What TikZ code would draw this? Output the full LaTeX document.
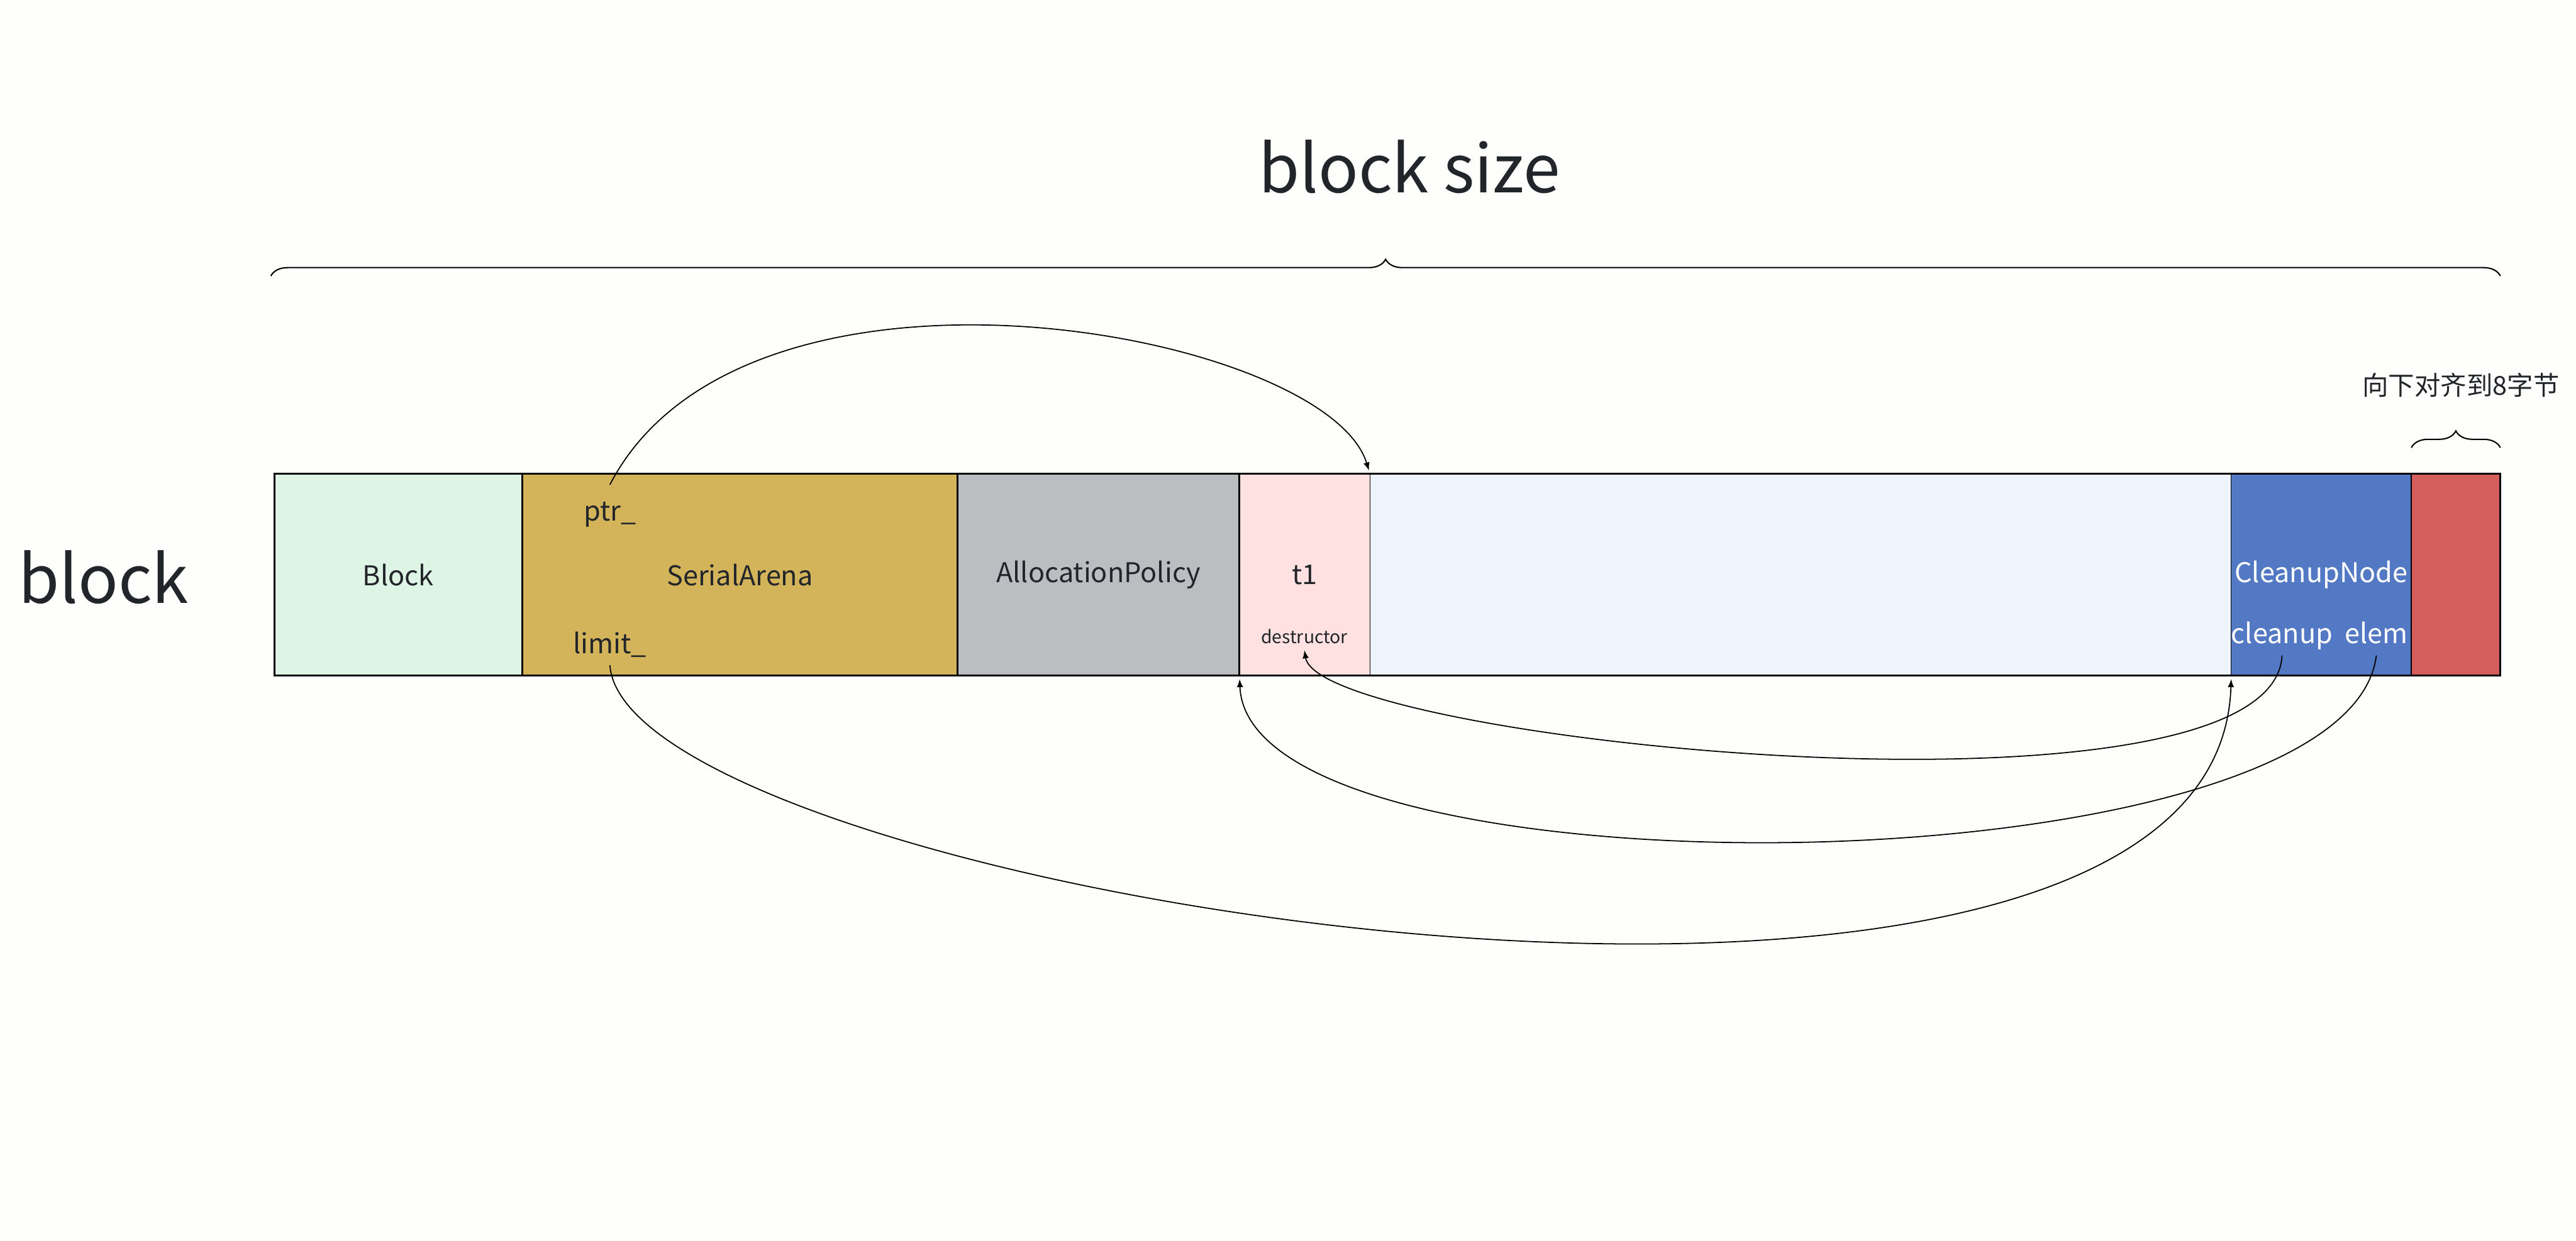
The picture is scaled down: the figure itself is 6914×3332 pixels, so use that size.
\documentclass[tikz,border=0pt]{standalone}
\usepackage{fontspec}
\setmainfont{Noto Sans CJK SC}
\usepackage{xcolor}
\usetikzlibrary{positioning,arrows.meta,decorations.pathreplacing}

\definecolor{bgC}{RGB}{254,254,252}
\definecolor{txtC}{RGB}{34,37,42}
\definecolor{blockC}{RGB}{222,244,228}
\definecolor{arenaC}{RGB}{211,180,90}
\definecolor{policyC}{RGB}{187,190,193}
\definecolor{objC}{RGB}{255,225,225}
\definecolor{roomC}{RGB}{239,243,251}
\definecolor{cnodeC}{RGB}{84,121,196}
\definecolor{padC}{RGB}{212,94,92}

\begin{document}
\begin{tikzpicture}[x=0.1pt,y=0.1pt,yscale=-1,xscale=1,
    cell/.style={rectangle, inner sep=0pt, outer sep=0pt, minimum height=54.2pt, text=txtC, font=\fontsize{7.3}{9}\selectfont},
    frame/.style={line width=0.5pt},
    link/.style={line width=0.3pt, -{Latex[length=2.2pt,width=1.7pt]}},
    curly/.style={decorate, decoration={brace, amplitude=4.5pt}, line width=0.35pt},
    lbl/.style={inner sep=0pt, text=txtC, font=\fontsize{7.3}{9}\selectfont},
    big/.style={inner sep=0pt, text=txtC, font=\fontsize{17.8}{21}\selectfont}]

                    \fill[bgC] (0,0) rectangle (6914,3332);
                    \useasboundingbox (0,0) rectangle (6914,3332);

                    %Shape: Rectangle
                    \node[cell, anchor=north west, minimum width=66.6pt, fill=blockC] (blk) at (736,1272) {Block};
                    \node[cell, right=0pt of blk, minimum width=116.8pt, fill=arenaC] (arena) {SerialArena};
                    \node[cell, right=0pt of arena, minimum width=75.7pt, fill=policyC] (policy) {AllocationPolicy};
                    \node[cell, right=0pt of policy, minimum width=35pt, fill=objC] (obj) {t1};
                    \node[cell, right=0pt of obj, minimum width=231.2pt, fill=roomC] (room) {};
                    \node[cell, right=0pt of room, minimum width=48.3pt, fill=cnodeC, text=white] (cnode) {CleanupNode};
                    \node[cell, right=0pt of cnode, minimum width=23.9pt, fill=padC] (pad) {};

                    %Straight Lines
                    \draw[frame] (blk.north west) rectangle (pad.south east);
                    \foreach \c in {arena,policy,obj,pad}
                        \draw[frame] (\c.north west) -- (\c.south west);
                    \foreach \c in {room,cnode}
                        \draw[line width=0.2pt] (\c.north west) -- (\c.south west);

                    % Text Node
                    \node[lbl, inner sep=4.5pt] (ptr) at (1637,1382) {ptr\_};
                    % Text Node
                    \node[lbl, inner sep=2pt] (limit) at (1637,1730) {limit\_};
                    % Text Node
                    \node[lbl, anchor=base, inner sep=1.5pt, font=\fontsize{4.8}{6}\selectfont] (dtor) at (3501,1728) {destructor};
                    % Text Node
                    \node[lbl, anchor=base, inner sep=1pt, text depth=2pt, text=white] (cln) at (6125,1728) {cleanup};
                    % Text Node
                    \node[lbl, anchor=base, inner sep=1pt, text depth=2pt, text=white] (elem) at (6378,1728) {elem};
                    % Text Node
                    \node[big, anchor=base] (blklbl) at (278,1619) {block};
                    % Text Node
                    \node[big, anchor=base] (size) at (3783,518) {block size};
                    % Text Node
                    \node[lbl, anchor=base, font=\fontsize{7}{9}\selectfont] (align) at (6605,1060) {向下对齐到8字节};

                    %Curve Lines
                    \draw[link, shorten >=0.9pt] (ptr.north) .. controls (2000,600) and (3560,890) .. (room.north west);
                    \draw[link, shorten >=0.9pt] (limit.south) .. controls (1680,2400) and (5950,3080) .. (cnode.south west);
                    \draw[link, shorten >=0.9pt] (elem.south) .. controls (6300,2400) and (3350,2430) .. (obj.south west);
                    \draw[link] (cln.south) .. controls (6100,2250) and (3540,1990) .. (dtor.south);

                    %Braces
                    \draw[curly] (727,741) -- (6711,741);
                    \draw[curly] (6472,1202) -- (6711,1202);
\end{tikzpicture}
\end{document}
